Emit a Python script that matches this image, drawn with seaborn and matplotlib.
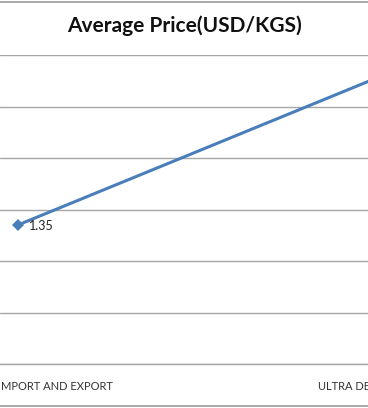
import matplotlib
matplotlib.use("Agg")
import matplotlib.pyplot as plt
from matplotlib.lines import Line2D
import seaborn as sns
import pandas as pd

# ---- data ----
companies = ["IMPORT AND EXPORT", "ULTRA DE"]
prices = [1.35, 2.83]
y_ticks = [0, 0.5, 1.0, 1.5, 2.0, 2.5, 3.0]
title = "Average Price(USD/KGS)"

sns.set_theme(style="white")
plt.rcParams["font.family"] = ["Lato", "DejaVu Sans"]

W, H = 368, 408
fig = plt.figure(figsize=(W / 100, H / 100), dpi=100)
ax = fig.add_axes([0, (H - 364) / H, 1, (364 - 55) / H])

df = pd.DataFrame({"pos": [0, 1], "company": companies, "price": prices})
sns.lineplot(data=df, x="pos", y="price", ax=ax, color="#4a7ebb", linewidth=2.2,
             marker="D", markersize=6, markeredgewidth=0, sort=False)

ax.set_yticks(y_ticks)
ax.set_yticklabels([])
ax.tick_params(axis="y", length=0)
ax.grid(axis="y", color="#a6a6a6", linewidth=1.0)
ax.grid(axis="x", visible=False)
for s in ["left", "right", "top"]:
    ax.spines[s].set_visible(False)
ax.spines["bottom"].set_color("#a6a6a6")
ax.spines["bottom"].set_linewidth(1.0)
ax.set_xlabel("")
ax.set_ylabel("")
ax.set_xticks([])

ax.set_xlim(-18 / 372, 350 / 372)
ax.set_ylim(0, 3.0)

# category labels (drawn at category positions, partly outside the visible crop)
offsets = [-20, -72]
for pos, name, off in zip(df["pos"], companies, offsets):
    ax.annotate(name, xy=(pos, 0), xycoords=("data", "axes fraction"),
                xytext=(off, -22), textcoords="offset pixels",
                ha="left", va="center", fontsize=8, color="#333333",
                annotation_clip=False)

ax.annotate(f"{prices[0]:.2f}", xy=(0, prices[0]), xytext=(11, -1), textcoords="offset pixels",
            ha="left", va="center", fontsize=9, color="#222222")

fig.text(0.5, 1 - 26 / H, title, ha="center", va="center", fontsize=15, fontweight="bold", color="#111111")

fig.add_artist(Line2D([0, 1], [1 - 2 / H, 1 - 2 / H], transform=fig.transFigure, color="#999999", linewidth=1.2))
fig.add_artist(Line2D([0, 1], [1 - 406 / H, 1 - 406 / H], transform=fig.transFigure, color="#999999", linewidth=1.2))

fig.savefig("out.png", dpi=100)
